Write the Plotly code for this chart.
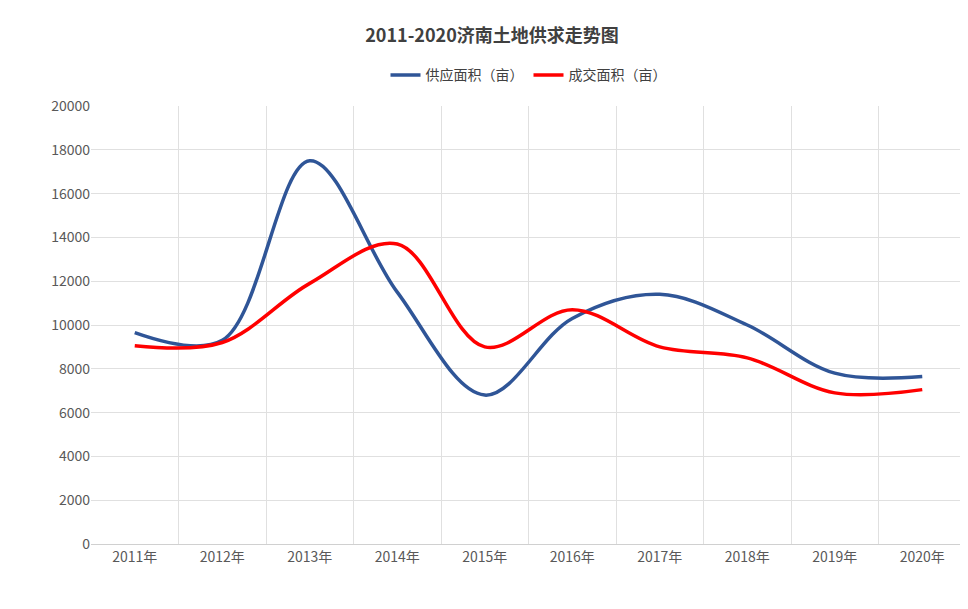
import plotly.graph_objects as go

years = ["2011年","2012年","2013年","2014年","2015年","2016年","2017年","2018年","2019年","2020年"]
supply = [9650, 9300, 17500, 11500, 6800, 10300, 11400, 10000, 7800, 7650]
deal = [9050, 9200, 11900, 13700, 9000, 10700, 9000, 8500, 6900, 7050]

fig = go.Figure()
fig.add_trace(go.Scatter(x=years, y=supply, name="供应面积（亩）", mode="lines",
                         line=dict(color="#2F5597", width=3.5, shape="spline", smoothing=1.0)))
fig.add_trace(go.Scatter(x=years, y=deal, name="成交面积（亩）", mode="lines",
                         line=dict(color="#FF0000", width=3.5, shape="spline", smoothing=1.0)))
font = "Noto Sans CJK SC"
fig.update_layout(
    width=968, height=609, plot_bgcolor="white", paper_bgcolor="white",
    font=dict(family=font, size=14, color="#595959"),
    title=dict(text="<b>2011-2020济南土地供求走势图</b>", x=0.5, y=0.955, xanchor="center",
               yanchor="middle", font=dict(size=18, color="#404040")),
    legend=dict(orientation="h", x=0.5, xanchor="center", y=1.07, yanchor="middle",
                font=dict(size=14, color="#404040")),
    margin=dict(l=83, r=10, t=98, b=73, autoexpand=False),
    xaxis=dict(type="category", tickson="boundaries", showgrid=True, gridcolor="#E0E0E0",
               showline=True, linecolor="#D0D0D0", ticks="", range=[-0.5, 9.5]),
    yaxis=dict(range=[0, 20000], dtick=2000, showgrid=True, gridcolor="#E0E0E0",
               zeroline=False, ticks="", tickformat="d"),
)
fig.write_html("out.html")
